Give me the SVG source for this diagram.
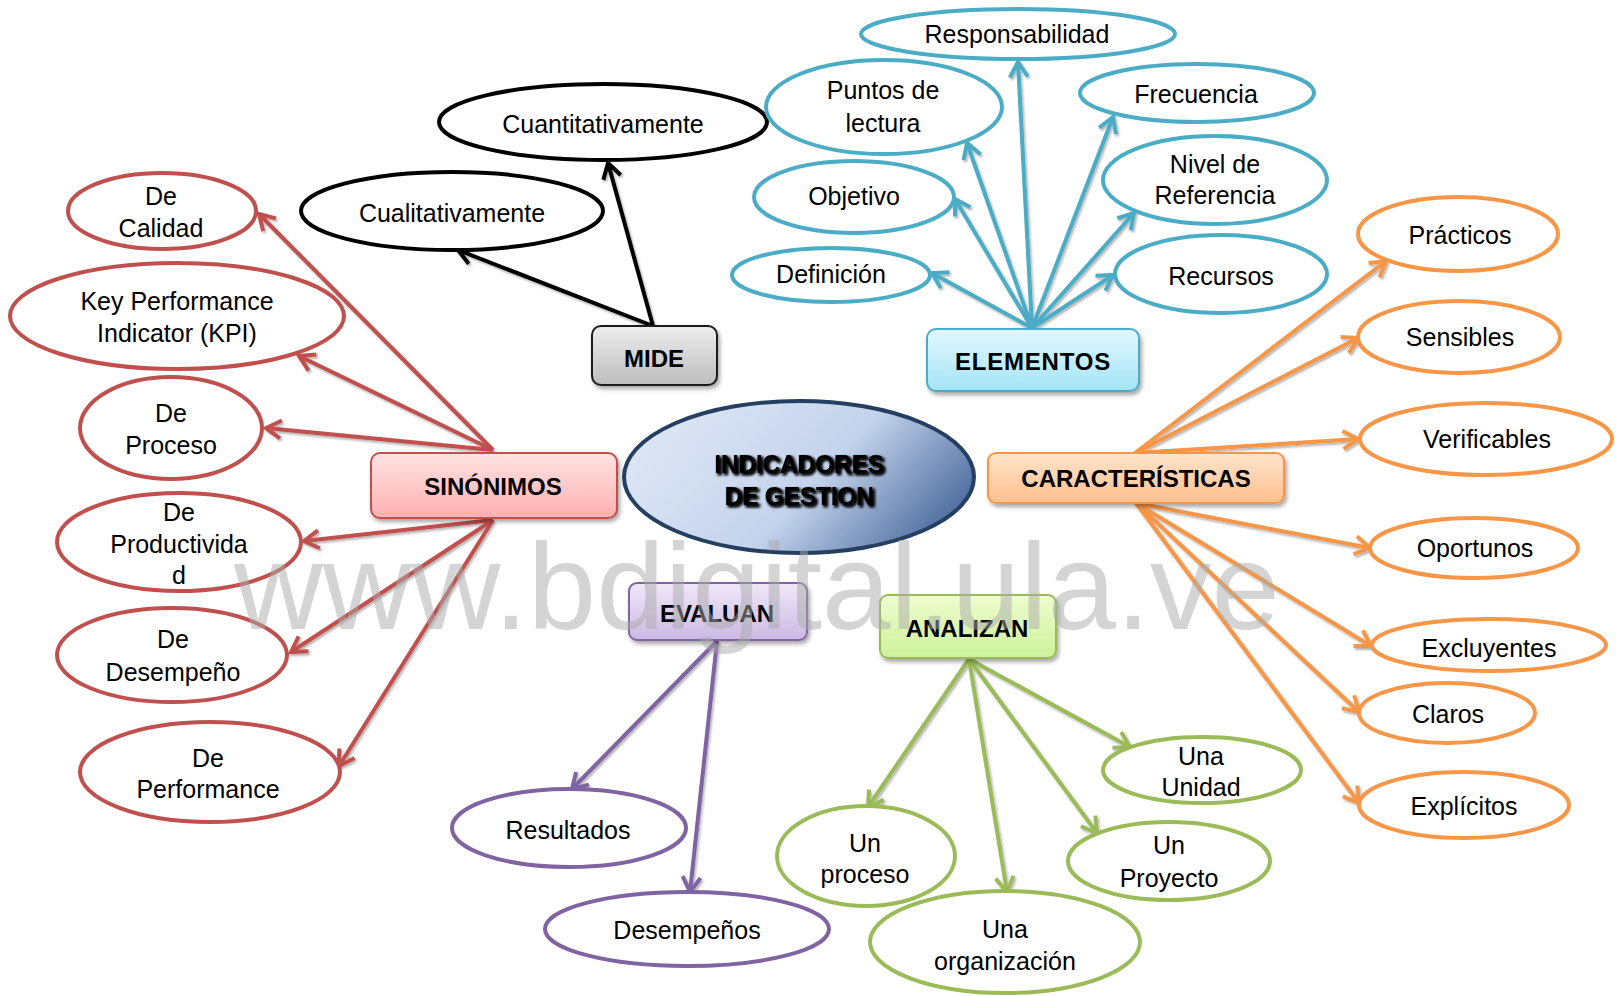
<svg xmlns="http://www.w3.org/2000/svg" width="1616" height="996" viewBox="0 0 1616 996">
<style>
.t{font-family:"Liberation Sans",Arial,sans-serif;font-size:25px;fill:#000;text-anchor:middle}
.b{font-family:"Liberation Sans",Arial,sans-serif;font-size:24px;font-weight:bold;fill:#000;text-anchor:middle}
.c{font-family:"Liberation Sans",Arial,sans-serif;font-size:25px;font-weight:bold;fill:#000;text-anchor:middle;letter-spacing:-0.5px}
.e{fill:#fff;stroke-width:4}
.red{stroke:#c0504d}.blue{stroke:#4bacc6}.org{stroke:#f79646}.pur{stroke:#8064a2}.grn{stroke:#9bbb59}.blk{stroke:#000}
.ln{stroke-width:4;fill:none}
.wm{font-family:"Liberation Sans",Arial,sans-serif;font-size:123px;fill:#aaaaaa;fill-opacity:0.5;text-anchor:middle}
</style>
<defs>
<filter id="sh" x="-10%" y="-10%" width="130%" height="140%"><feDropShadow dx="2" dy="3" stdDeviation="2" flood-color="#000" flood-opacity="0.35"/></filter>
<filter id="lsh" x="-10%" y="-10%" width="130%" height="130%"><feDropShadow dx="1.5" dy="2" stdDeviation="1.2" flood-color="#000" flood-opacity="0.3"/></filter>
<filter id="tsh" x="-10%" y="-20%" width="130%" height="150%"><feGaussianBlur in="SourceAlpha" stdDeviation="1.6" result="b"/><feOffset dx="1.5" dy="2" result="o"/><feMerge><feMergeNode in="o"/><feMergeNode in="o"/><feMergeNode in="SourceGraphic"/></feMerge></filter>
<linearGradient id="gc" x1="0" y1="0.3" x2="1" y2="0.7"><stop offset="0" stop-color="#dee6f4"/><stop offset="0.55" stop-color="#c4d3ec"/><stop offset="1" stop-color="#46679a"/></linearGradient>
<linearGradient id="gr" x1="0" y1="0" x2="0" y2="1"><stop offset="0" stop-color="#ffe3e3"/><stop offset="1" stop-color="#ffb0b0"/></linearGradient>
<linearGradient id="gg" x1="0" y1="0" x2="0" y2="1"><stop offset="0" stop-color="#ededed"/><stop offset="1" stop-color="#bdbdbd"/></linearGradient>
<linearGradient id="gb" x1="0" y1="0" x2="0" y2="1"><stop offset="0" stop-color="#e3f8fd"/><stop offset="1" stop-color="#a3e4f7"/></linearGradient>
<linearGradient id="go" x1="0" y1="0" x2="0" y2="1"><stop offset="0" stop-color="#ffe4cc"/><stop offset="1" stop-color="#fdc08e"/></linearGradient>
<linearGradient id="gp" x1="0" y1="0" x2="0" y2="1"><stop offset="0" stop-color="#efe8f8"/><stop offset="1" stop-color="#cbb9e4"/></linearGradient>
<linearGradient id="gn" x1="0" y1="0" x2="0" y2="1"><stop offset="0" stop-color="#effccf"/><stop offset="1" stop-color="#cdf29a"/></linearGradient>
<marker id="mr" markerUnits="userSpaceOnUse" viewBox="-20 -15 30 30" refX="0" refY="0" markerWidth="30" markerHeight="30" orient="auto" overflow="visible"><path d="M-15 -9 L0 0 L-15 9" fill="none" stroke="#c0504d" stroke-width="4"/></marker>
<marker id="mb" markerUnits="userSpaceOnUse" viewBox="-20 -15 30 30" refX="0" refY="0" markerWidth="30" markerHeight="30" orient="auto" overflow="visible"><path d="M-15 -9 L0 0 L-15 9" fill="none" stroke="#4bacc6" stroke-width="4"/></marker>
<marker id="mo" markerUnits="userSpaceOnUse" viewBox="-20 -15 30 30" refX="0" refY="0" markerWidth="30" markerHeight="30" orient="auto" overflow="visible"><path d="M-15 -9 L0 0 L-15 9" fill="none" stroke="#f79646" stroke-width="4"/></marker>
<marker id="mp" markerUnits="userSpaceOnUse" viewBox="-20 -15 30 30" refX="0" refY="0" markerWidth="30" markerHeight="30" orient="auto" overflow="visible"><path d="M-15 -9 L0 0 L-15 9" fill="none" stroke="#8064a2" stroke-width="4"/></marker>
<marker id="mg" markerUnits="userSpaceOnUse" viewBox="-20 -15 30 30" refX="0" refY="0" markerWidth="30" markerHeight="30" orient="auto" overflow="visible"><path d="M-15 -9 L0 0 L-15 9" fill="none" stroke="#9bbb59" stroke-width="4"/></marker>
<marker id="mk" markerUnits="userSpaceOnUse" viewBox="-20 -15 30 30" refX="0" refY="0" markerWidth="30" markerHeight="30" orient="auto" overflow="visible"><path d="M-15 -9 L0 0 L-15 9" fill="none" stroke="#000" stroke-width="4"/></marker>
</defs>
<rect width="1616" height="996" fill="#fff"/>

<g id="connectors" filter="url(#lsh)">
<g class="ln red" marker-end="url(#mr)">
<line x1="493" y1="450" x2="259" y2="214"/>
<line x1="493" y1="450" x2="299" y2="356"/>
<line x1="493" y1="450" x2="266" y2="428"/>
<line x1="493" y1="520" x2="304" y2="541"/>
<line x1="493" y1="520" x2="291" y2="652"/>
<line x1="493" y1="520" x2="339" y2="766"/>
</g>
<g class="ln blue" marker-end="url(#mb)">
<line x1="1032" y1="328" x2="932" y2="273"/>
<line x1="1032" y1="328" x2="955" y2="199"/>
<line x1="1032" y1="328" x2="967" y2="143"/>
<line x1="1032" y1="328" x2="1018" y2="62"/>
<line x1="1032" y1="328" x2="1113" y2="117"/>
<line x1="1032" y1="328" x2="1134" y2="213"/>
<line x1="1032" y1="328" x2="1113" y2="275"/>
</g>
<g class="ln blk" marker-end="url(#mk)">
<line x1="653" y1="326" x2="608" y2="163"/>
<line x1="653" y1="326" x2="458" y2="250"/>
</g>
<g class="ln org" marker-end="url(#mo)">
<line x1="1135" y1="453" x2="1386" y2="261"/>
<line x1="1135" y1="453" x2="1358" y2="338"/>
<line x1="1135" y1="453" x2="1358" y2="439"/>
<line x1="1136" y1="503" x2="1370" y2="548"/>
<line x1="1136" y1="503" x2="1371" y2="646"/>
<line x1="1136" y1="503" x2="1359" y2="712"/>
<line x1="1136" y1="503" x2="1359" y2="803"/>
</g>
<g class="ln pur" marker-end="url(#mp)">
<line x1="717" y1="641" x2="572" y2="789"/>
<line x1="717" y1="641" x2="690" y2="892"/>
</g>
<g class="ln grn" marker-end="url(#mg)">
<line x1="969" y1="659" x2="868" y2="807"/>
<line x1="969" y1="659" x2="1007" y2="892"/>
<line x1="969" y1="659" x2="1097" y2="833"/>
<line x1="969" y1="659" x2="1130" y2="747"/>
</g>
</g>

<g id="center">
<ellipse cx="799" cy="477" rx="175" ry="76" fill="url(#gc)" stroke="#243f60" stroke-width="4"/>
<g filter="url(#tsh)"><text class="c" x="799" y="473">INDICADORES</text><text class="c" x="799" y="505">DE GESTION</text></g>
</g>

<g id="sinonimos"><rect x="371" y="453" width="246" height="65" rx="9" fill="url(#gr)" stroke="#c0504d" stroke-width="2" filter="url(#sh)"/><text class="b" x="493" y="495">SINÓNIMOS</text></g>
<g id="mide"><rect x="592" y="326" width="125" height="59" rx="9" fill="url(#gg)" stroke="#1a1a1a" stroke-width="2" filter="url(#sh)"/><text class="b" x="654" y="367">MIDE</text></g>
<g id="elementos"><rect x="927" y="329" width="212" height="62" rx="9" fill="url(#gb)" stroke="#4bacc6" stroke-width="2" filter="url(#sh)"/><text class="b" x="1033" y="370" letter-spacing="0.8">ELEMENTOS</text></g>
<g id="caracteristicas"><rect x="988" y="453" width="296" height="50" rx="8" fill="url(#go)" stroke="#f79646" stroke-width="2" filter="url(#sh)"/><text class="b" x="1136" y="487">CARACTERÍSTICAS</text></g>
<g id="evaluan"><rect x="629" y="583" width="178" height="57" rx="8" fill="url(#gp)" stroke="#8064a2" stroke-width="2" filter="url(#sh)"/><text class="b" x="717" y="622">EVALUAN</text></g>
<g id="analizan"><rect x="880" y="595" width="176" height="63" rx="8" fill="url(#gn)" stroke="#9bbb59" stroke-width="2" filter="url(#sh)"/><text class="b" x="967" y="637">ANALIZAN</text></g>

<g id="cuantitativamente"><ellipse class="e blk" cx="603" cy="122" rx="164" ry="38"/><text class="t" x="603" y="133">Cuantitativamente</text></g>
<g id="cualitativamente"><ellipse class="e blk" cx="452" cy="211" rx="151" ry="39"/><text class="t" x="452" y="222">Cualitativamente</text></g>

<g id="responsabilidad"><ellipse class="e blue" cx="1018" cy="34" rx="157" ry="25"/><text class="t" x="1017" y="43">Responsabilidad</text></g>
<g id="puntos"><ellipse class="e blue" cx="884" cy="107" rx="118" ry="47"/><text class="t" x="883" y="99">Puntos de</text><text class="t" x="883" y="132">lectura</text></g>
<g id="objetivo"><ellipse class="e blue" cx="854" cy="197" rx="100" ry="36"/><text class="t" x="854" y="205">Objetivo</text></g>
<g id="definicion"><ellipse class="e blue" cx="831" cy="275" rx="99" ry="27"/><text class="t" x="831" y="283">Definición</text></g>
<g id="frecuencia"><ellipse class="e blue" cx="1197" cy="93" rx="117" ry="29"/><text class="t" x="1196" y="103">Frecuencia</text></g>
<g id="nivel"><ellipse class="e blue" cx="1215" cy="180" rx="112" ry="44"/><text class="t" x="1215" y="173">Nivel de</text><text class="t" x="1215" y="204">Referencia</text></g>
<g id="recursos"><ellipse class="e blue" cx="1221" cy="274" rx="106" ry="39"/><text class="t" x="1221" y="285">Recursos</text></g>

<g id="calidad"><ellipse class="e red" cx="162" cy="211" rx="94" ry="38"/><text class="t" x="161" y="205">De</text><text class="t" x="161" y="237">Calidad</text></g>
<g id="kpi"><ellipse class="e red" cx="177" cy="316" rx="167" ry="53"/><text class="t" x="177" y="310">Key Performance</text><text class="t" x="177" y="342">Indicator (KPI)</text></g>
<g id="proceso"><ellipse class="e red" cx="171" cy="428" rx="91" ry="51"/><text class="t" x="171" y="422">De</text><text class="t" x="171" y="454">Proceso</text></g>
<g id="productividad"><ellipse class="e red" cx="179" cy="542" rx="122" ry="49"/><text class="t" x="179" y="521">De</text><text class="t" x="179" y="553">Productivida</text><text class="t" x="179" y="584">d</text></g>
<g id="desempeno"><ellipse class="e red" cx="172" cy="655" rx="115" ry="47"/><text class="t" x="173" y="648">De</text><text class="t" x="173" y="681">Desempeño</text></g>
<g id="performance"><ellipse class="e red" cx="210" cy="772" rx="130" ry="50"/><text class="t" x="208" y="767">De</text><text class="t" x="208" y="798">Performance</text></g>

<g id="practicos"><ellipse class="e org" cx="1458" cy="234" rx="100" ry="37"/><text class="t" x="1460" y="244">Prácticos</text></g>
<g id="sensibles"><ellipse class="e org" cx="1459" cy="337" rx="101" ry="36"/><text class="t" x="1460" y="346">Sensibles</text></g>
<g id="verificables"><ellipse class="e org" cx="1486" cy="439" rx="126" ry="36"/><text class="t" x="1487" y="448">Verificables</text></g>
<g id="oportunos"><ellipse class="e org" cx="1474" cy="548" rx="104" ry="30"/><text class="t" x="1475" y="557">Oportunos</text></g>
<g id="excluyentes"><ellipse class="e org" cx="1489" cy="645" rx="117" ry="26"/><text class="t" x="1489" y="657">Excluyentes</text></g>
<g id="claros"><ellipse class="e org" cx="1447" cy="713" rx="88" ry="30"/><text class="t" x="1448" y="723">Claros</text></g>
<g id="explicitos"><ellipse class="e org" cx="1464" cy="805" rx="105" ry="33"/><text class="t" x="1464" y="815">Explícitos</text></g>

<g id="resultados"><ellipse class="e pur" cx="569" cy="828" rx="117" ry="39"/><text class="t" x="568" y="839">Resultados</text></g>
<g id="desempenos"><ellipse class="e pur" cx="687" cy="929" rx="142" ry="37"/><text class="t" x="687" y="939">Desempeños</text></g>

<g id="unproceso"><ellipse class="e grn" cx="866" cy="856" rx="89" ry="50"/><text class="t" x="865" y="852">Un</text><text class="t" x="865" y="883">proceso</text></g>
<g id="organizacion"><ellipse class="e grn" cx="1005" cy="942" rx="135" ry="51"/><text class="t" x="1005" y="938">Una</text><text class="t" x="1005" y="970">organización</text></g>
<g id="proyecto"><ellipse class="e grn" cx="1169" cy="861" rx="101" ry="39"/><text class="t" x="1169" y="854">Un</text><text class="t" x="1169" y="887">Proyecto</text></g>
<g id="unidad"><ellipse class="e grn" cx="1202" cy="770" rx="99" ry="33"/><text class="t" x="1201" y="765">Una</text><text class="t" x="1201" y="796">Unidad</text></g>

<text class="wm" x="757" y="629">www.bdigital.ula.ve</text>
</svg>
